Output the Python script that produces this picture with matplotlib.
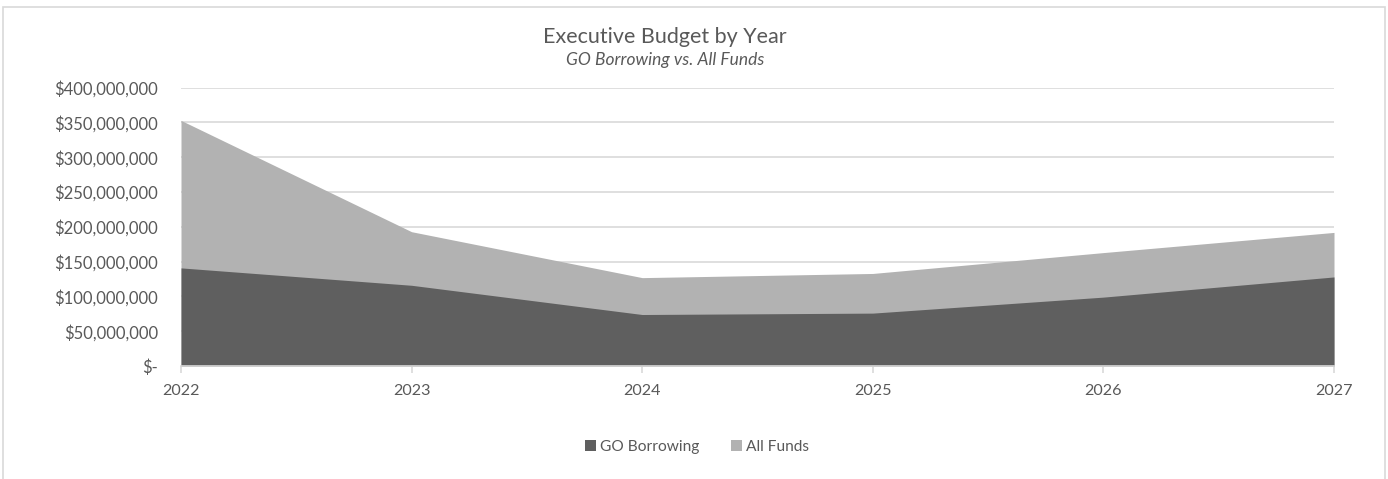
import matplotlib.pyplot as plt
from matplotlib.patches import Rectangle
from matplotlib.ticker import FuncFormatter

years = [2022, 2023, 2024, 2025, 2026, 2027]
go_borrowing = [141e6, 116e6, 74e6, 76e6, 99e6, 128e6]
all_funds = [353e6, 193e6, 127e6, 133e6, 163e6, 192e6]

text_color = "#595959"
grid_color = "#d9d9d9"

plt.rcParams["font.family"] = ["Lato", "DejaVu Sans"]

fig = plt.figure(figsize=(13.88, 4.79), dpi=100)

# Chart area border (Excel style)
fig.patches.append(Rectangle((3 / 1388, -0.1), 1382 / 1388, 1 - 7 / 479 + 0.1,
                             transform=fig.transFigure, fill=False,
                             edgecolor=grid_color, linewidth=1.2))

ax = fig.add_axes([181 / 1388, 1 - 366 / 479, (1334 - 181) / 1388, (366 - 87.7) / 479])

# Draw the larger series first so GO Borrowing sits in front.
ax.fill_between(years, all_funds, color="#b2b2b2", linewidth=0, label="All Funds")
ax.fill_between(years, go_borrowing, color="#5f5f5f", linewidth=0, label="GO Borrowing")

ax.set_xlim(years[0], years[-1])
ax.set_ylim(0, 400e6)
ax.set_yticks(range(0, 400_000_001, 50_000_000))
ax.set_xticks(years)


def money(v, pos):
    if v == 0:
        return "$-"
    return f"${v:,.0f}"


ax.yaxis.set_major_formatter(FuncFormatter(money))
ax.grid(axis="y", color=grid_color, linewidth=1.2)
ax.set_axisbelow(True)

for side in ["top", "right", "left"]:
    ax.spines[side].set_visible(False)
ax.spines["bottom"].set_color(grid_color)
ax.spines["bottom"].set_linewidth(1.2)

ax.tick_params(axis="y", length=0, pad=16.5, labelsize=12, labelcolor=text_color)
ax.tick_params(axis="x", length=5, width=1.2, color=grid_color, pad=8,
               labelsize=11.6, labelcolor=text_color)

fig.text(665 / 1388, 1 - 37 / 479, "Executive Budget by Year", ha="center", va="center",
         fontsize=15.5, color=text_color)
fig.text(665 / 1388, 1 - 60 / 479, "GO Borrowing vs. All Funds", ha="center", va="center",
         fontsize=12.5, style="italic", color=text_color)

handles, labels = ax.get_legend_handles_labels()
fig.legend(handles[::-1], labels[::-1], loc="center", bbox_to_anchor=(697 / 1388, 1 - 447 / 479),
           ncol=2, frameon=False, fontsize=11.2, labelcolor=text_color,
           handlelength=0.7, handleheight=0.7, handletextpad=0.3, columnspacing=2.0)

fig.savefig("out.png", dpi=100)
